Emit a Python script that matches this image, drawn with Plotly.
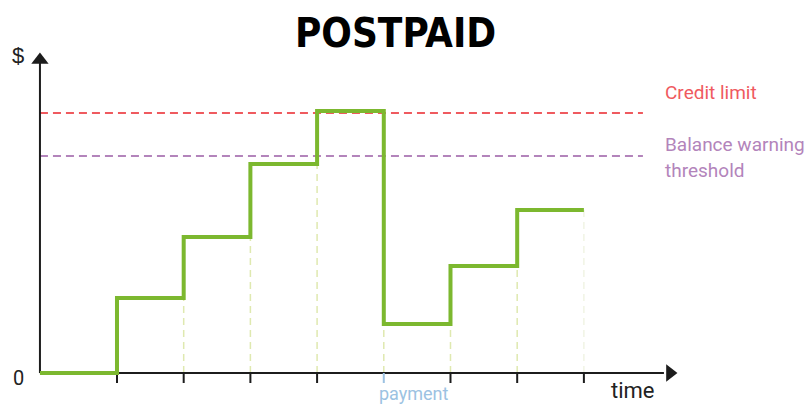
import plotly.graph_objects as go

# ---- data ----
tick_times = [0, 1, 2, 3, 4, 5, 6, 7]          # event times (ticks on time axis)
balance = [75, 136, 209, 262, 49, 107, 163]     # balance after each event
start_time = -1.155                              # axis origin
credit_limit = 260
warning_threshold = 217
payment_index = 4
title_text = "POSTPAID"

GREEN = "#7cb82f"
RED = "#ef5a5f"
PURPLE = "#b384bb"
BLUE = "#9cc2e2"
FAINT = "#dfe9b0"
AXIS = "#1c1c1c"

fig = go.Figure()

# step line
xs = [start_time]
ys = [0]
prev = 0
for t, b in zip(tick_times, balance):
    xs += [t, t]
    ys += [prev, b]
    prev = b
xs.append(tick_times[-1])
ys.append(balance[-1])

# dashed vertical guides up to the lower level around each event
levels_before = [0] + balance[:-1]
for i in range(len(balance)):
    t = tick_times[i]
    lo = min(levels_before[i], balance[i])
    if lo <= 0:
        continue
    fig.add_trace(go.Scatter(x=[t, t], y=[0, lo], mode="lines",
                             line=dict(color=FAINT, width=1.5, dash="7px,5px"),
                             hoverinfo="skip", showlegend=False))
# last guide (fainter)
fig.add_trace(go.Scatter(x=[tick_times[-1]] * 2, y=[0, balance[-1]], mode="lines",
                         line=dict(color="#f1f4e4", width=1.5, dash="7px,5px"),
                         hoverinfo="skip", showlegend=False))

# threshold lines
line_end = 7.885
fig.add_trace(go.Scatter(x=[start_time, line_end], y=[credit_limit] * 2, mode="lines",
                         line=dict(color=RED, width=2, dash="8px,5px"),
                         hoverinfo="skip", showlegend=False))
fig.add_trace(go.Scatter(x=[start_time, line_end], y=[warning_threshold] * 2, mode="lines",
                         line=dict(color=PURPLE, width=2, dash="8px,5px"),
                         hoverinfo="skip", showlegend=False))

# axes lines
fig.add_trace(go.Scatter(x=[start_time, start_time], y=[0, 310], mode="lines",
                         line=dict(color=AXIS, width=2), hoverinfo="skip", showlegend=False))
fig.add_trace(go.Scatter(x=[start_time, 8.2], y=[0, 0], mode="lines",
                         line=dict(color=AXIS, width=2), hoverinfo="skip", showlegend=False))
# arrowheads
fig.add_trace(go.Scatter(x=[start_time], y=[313], mode="markers",
                         marker=dict(symbol="triangle-up", size=15, color=AXIS),
                         hoverinfo="skip", showlegend=False))
fig.add_trace(go.Scatter(x=[8.29], y=[0], mode="markers",
                         marker=dict(symbol="triangle-right", size=15, color=AXIS),
                         hoverinfo="skip", showlegend=False))

# tick marks
for i, t in enumerate(tick_times):
    col = BLUE if i == payment_index else AXIS
    fig.add_trace(go.Scatter(x=[t, t], y=[0, -10], mode="lines",
                             line=dict(color=col, width=2),
                             hoverinfo="skip", showlegend=False))

# step line on top
fig.add_trace(go.Scatter(x=xs, y=ys, mode="lines",
                         line=dict(color=GREEN, width=4, shape="linear"),
                         hoverinfo="skip", showlegend=False))

LABEL_FONT = "Roboto, sans-serif"
ann = [
    dict(x=4.17, y=340, text=title_text,
         font=dict(family="DejaVu Sans Condensed, DejaVu Sans, sans-serif",
                   size=40, color="#000000", weight="bold")),
    dict(x=-1.484, y=318, text="$", font=dict(family="Liberation Sans, sans-serif", size=22, color="#222")),
    dict(x=-1.484, y=-5, text="0", font=dict(family=LABEL_FONT, size=20, color="#222")),
    dict(x=7.74, y=-17, text="time", font=dict(family=LABEL_FONT, size=22, color="#222")),
    dict(x=tick_times[payment_index] + 0.45, y=-20, text="payment", font=dict(family=LABEL_FONT, size=18, color=BLUE)),
    dict(x=8.19, y=281, text="Credit limit", xanchor="left", font=dict(family=LABEL_FONT, size=19, color=RED)),
    dict(x=8.19, y=229, text="Balance warning", xanchor="left", font=dict(family=LABEL_FONT, size=19, color=PURPLE)),
    dict(x=8.19, y=203, text="threshold", xanchor="left", font=dict(family=LABEL_FONT, size=19, color=PURPLE)),
]
for a in ann:
    a.setdefault("xanchor", "center")
    fig.add_annotation(xref="x", yref="y", showarrow=False, yanchor="middle", **a)

fig.update_layout(
    width=810, height=404,
    margin=dict(l=0, r=0, t=0, b=0),
    paper_bgcolor="white", plot_bgcolor="white",
    xaxis=dict(range=[-1.754, 10.39], visible=False, fixedrange=True),
    yaxis=dict(range=[-31, 404 - 31], visible=False, fixedrange=True),
    showlegend=False,
)

fig.write_html("out.html", config={"displayModeBar": False},
               post_script="document.body.style.margin='0';document.body.style.overflow='hidden';")
